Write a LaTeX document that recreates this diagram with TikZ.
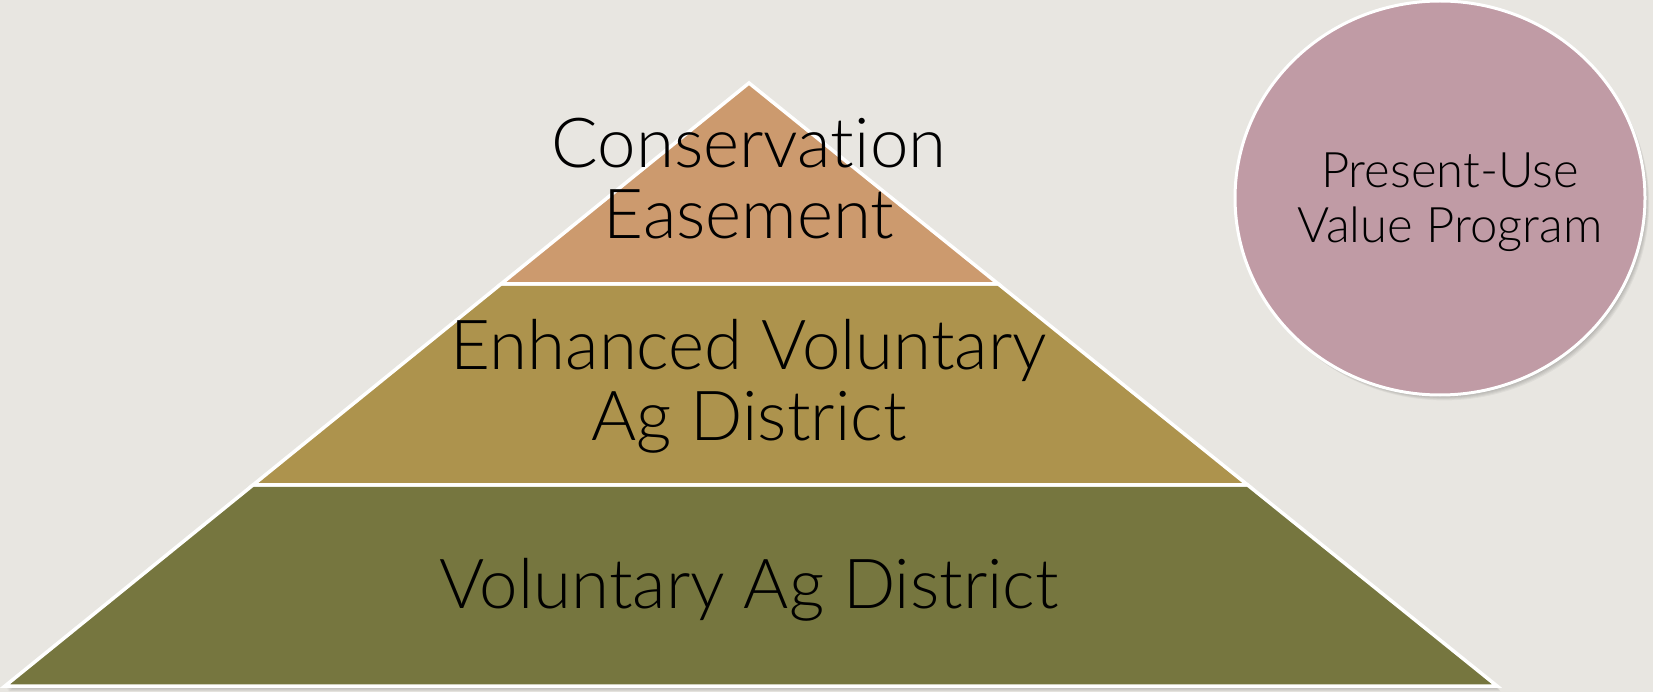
\documentclass[tikz,border=0pt]{standalone}
\usepackage{fontspec}
\setmainfont{Lato Light}[Ligatures=NoCommon]
\usetikzlibrary{calc}

\definecolor{bgcol}{HTML}{E8E6E1}
\definecolor{tiertop}{HTML}{CC9A6E}
\definecolor{tiermid}{HTML}{AD934D}
\definecolor{tierbot}{HTML}{76763F}
\definecolor{circfill}{HTML}{C09BA5}

\tikzset{
  tierbox/.style={draw=white, line width=3.5pt, line join=miter},
  tierlabel/.style={align=center, text=black, inner sep=0pt,
    font=\fontsize{69}{71}\selectfont},
  circlabel/.style={align=center, text=black, inner sep=0pt,
    font=\fontsize{49}{55}\selectfont},
  shadowfill/.style={fill=black, opacity=0.045, draw=none}
}

\begin{document}
\begin{tikzpicture}[x=1pt,y=-1pt]
  % page and background
  \fill[bgcol] (0,0) rectangle (1653,692);
  \useasboundingbox (0,0) rectangle (1653,692);

  % pyramid corners
  \coordinate (apex) at (749,83);
  \coordinate (bl) at (5,686);
  \coordinate (br) at (1497,686);
  \coordinate (l1) at ($(apex)!1/3!(bl)$);
  \coordinate (r1) at ($(apex)!1/3!(br)$);
  \coordinate (l2) at ($(apex)!2/3!(bl)$);
  \coordinate (r2) at ($(apex)!2/3!(br)$);

  % soft drop shadows
  \foreach \d in {1,...,6} {
    \fill[shadowfill] ($(apex)+(\d*0.6,\d*0.9)$) -- ($(bl)+(\d*0.6,\d*0.9)$)
      -- ($(br)+(\d*0.6,\d*0.9)$) -- cycle;
    \fill[shadowfill] (1440+\d*0.7,198+\d*0.9) ellipse [x radius=205, y radius=197];
  }

  % tiers
  \filldraw[tierbox, fill=tierbot] (l2) -- (bl) -- (br) -- (r2) -- cycle;
  \filldraw[tierbox, fill=tiermid] (l1) -- (l2) -- (r2) -- (r1) -- cycle;
  \filldraw[tierbox, fill=tiertop] (apex) -- (l1) -- (r1) -- cycle;

  % side circle
  \filldraw[draw=white, line width=3pt, fill=circfill]
    (1440,198) ellipse [x radius=205, y radius=197];

  % labels
  \node[tierlabel] (conserv) at (749,179) {Conservation\\Easement};
  \node[tierlabel] (enhanced) at (749,386) {Enhanced Voluntary\\Ag District};
  \node[tierlabel, anchor=base] (voluntary) at (749,608) {Voluntary Ag District};
  \node[circlabel] (puv) at (1450,202) {Present-Use\\Value Program};
\end{tikzpicture}
\end{document}
